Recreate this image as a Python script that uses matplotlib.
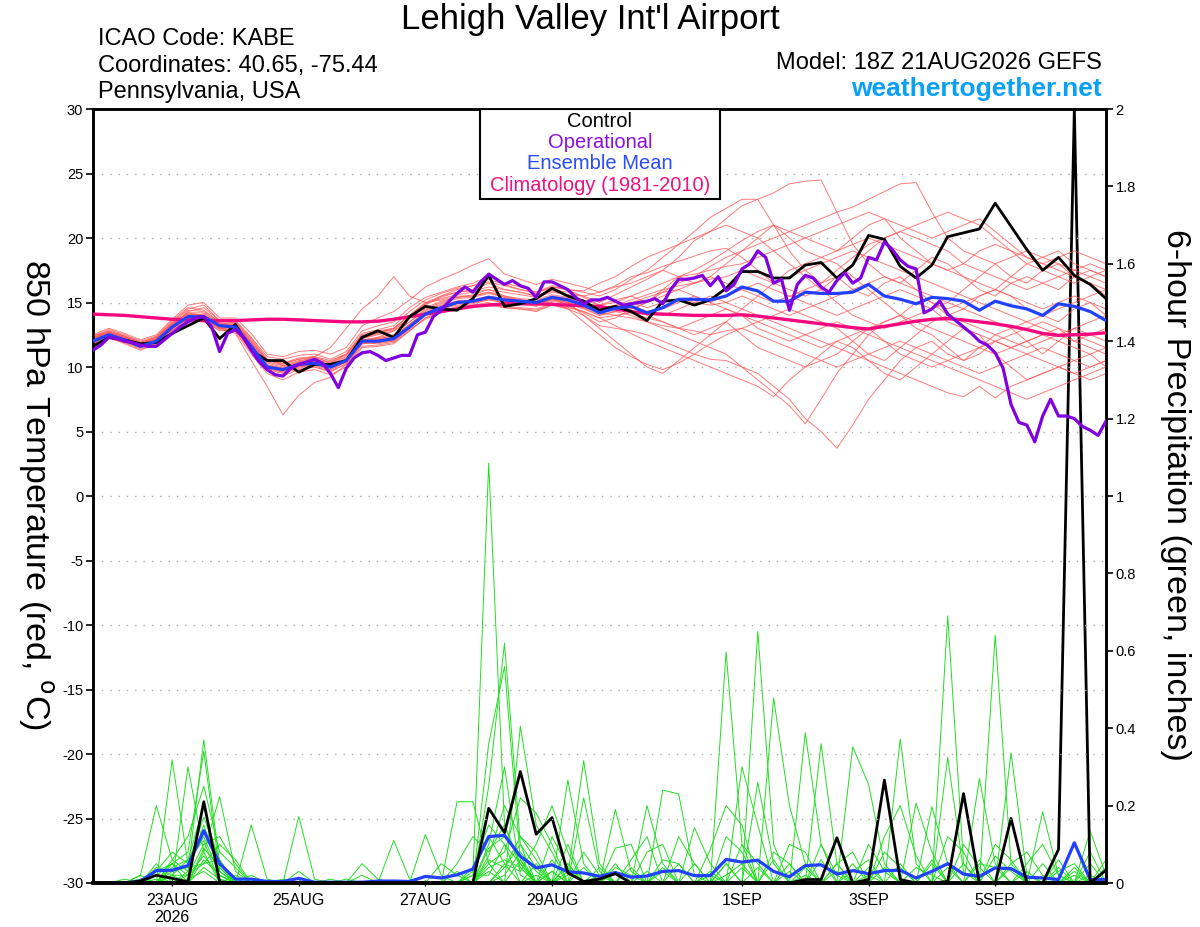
import numpy as np
import pandas as pd
import matplotlib
matplotlib.use("Agg")
import matplotlib.pyplot as plt
from matplotlib.patches import Rectangle

plt.rcParams['font.family'] = ['Liberation Sans', 'DejaVu Sans']

# ---------------- data ----------------
times = pd.date_range('2026-08-21 18:00', periods=65, freq='6h')
times_op = pd.date_range('2026-08-21 18:00', periods=129, freq='3h')

tick_dates = ['2026-08-23', '2026-08-25', '2026-08-27', '2026-08-29',
              '2026-09-01', '2026-09-03', '2026-09-05']
tick_labels = ['23AUG\n2026', '25AUG', '27AUG', '29AUG', '1SEP', '3SEP', '5SEP']

control_temp = [11.6, 12.3, 12.1, 11.8, 11.9, 12.6, 13.2, 13.8, 12.2, 13.3,
                11.3, 10.5, 10.5, 9.6, 10.2, 10.2, 10.5, 12.3, 12.8, 12.3,
                13.9, 14.7, 14.5, 14.4, 15.3, 17.1, 14.7, 14.9, 15.3, 16.1,
                15.5, 15.1, 14.4, 14.7, 14.3, 13.6, 15.1, 15.2, 14.8, 15.2,
                16.1, 17.4, 17.4, 16.9, 16.9, 17.9, 18.1, 16.9, 17.9, 20.2,
                19.9, 17.8, 16.9, 17.9, 20.1, 20.4, 20.7, 22.7, 20.9, 19.1,
                17.5, 18.5, 17.1, 16.4, 15.3]

mean_temp = [12.0, 12.5, 12.1, 11.6, 12.0, 13.1, 13.9, 13.9, 13.2, 13.1,
             11.6, 10.0, 9.8, 10.2, 10.3, 10.0, 10.5, 12.0, 12.0, 12.2,
             13.1, 14.1, 14.6, 15.0, 15.1, 15.4, 15.2, 15.1, 15.0, 15.4,
             15.2, 14.8, 14.2, 14.55, 14.7, 14.2, 14.6, 15.25, 15.25, 15.2,
             15.5, 16.2, 15.9, 15.1, 15.1, 15.8, 15.7, 15.7, 15.8, 16.4,
             15.5, 15.25, 14.9, 15.4, 15.3, 15.1, 14.4, 15.1, 14.75, 14.5,
             14.0, 14.9, 14.7, 14.3, 13.6]

clim_temp = [14.1, 14.05, 14.0, 13.9, 13.8, 13.7, 13.65, 13.6, 13.6, 13.6,
             13.65, 13.7, 13.7, 13.65, 13.6, 13.55, 13.5, 13.5, 13.55, 13.7,
             13.9, 14.1, 14.3, 14.5, 14.7, 14.8, 14.9, 14.9, 14.9, 14.85,
             14.8, 14.75, 14.7, 14.5, 14.3, 14.15, 14.1, 14.05, 14.0, 14.0,
             14.0, 14.05, 13.95, 13.8, 13.65, 13.5, 13.35, 13.2, 13.05, 12.95,
             13.15, 13.35, 13.55, 13.7, 13.75, 13.65, 13.5, 13.35, 13.15, 12.9,
             12.6, 12.45, 12.5, 12.55, 12.65]

oper_temp = [11.3, 11.7, 12.3, 12.2, 12.0, 11.9, 11.7, 11.6, 11.6, 12.1,
             12.6, 13.1, 13.5, 13.8, 13.9, 13.1, 11.2, 12.6, 12.9, 12.3,
             11.3, 10.4, 9.8, 9.4, 9.3, 9.9, 10.2, 10.4, 10.6, 10.3,
             9.5, 8.4, 9.9, 10.7, 11.1, 11.2, 10.9, 10.5, 10.7, 10.9,
             10.9, 12.5, 12.7, 13.9, 14.4, 15.1, 15.7, 16.2, 15.8, 16.6,
             17.2, 16.8, 16.4, 16.7, 16.3, 16.1, 15.4, 16.6, 16.6, 16.3,
             16.0, 15.4, 14.9, 15.2, 15.2,
             15.4, 15.1, 14.8, 14.9, 15.0, 15.1, 15.3, 14.9, 16.0, 16.8,
             16.8, 16.9, 17.1, 16.3, 17.0, 15.9, 16.4, 17.6, 18.0, 19.0,
             18.5, 16.5, 16.8, 14.4, 16.4, 17.1, 16.9, 16.2, 15.8, 16.7,
             17.3, 16.5, 16.9, 18.5, 18.3, 19.7, 19.1, 18.3, 17.8, 17.6,
             14.2, 14.5, 15.1, 14.1, 13.6, 13.1, 12.6, 12.0, 11.7, 11.1,
             9.9, 7.1, 5.7, 5.5, 4.2, 6.2, 7.5, 6.2, 6.2, 6.0,
             5.4, 5.1, 4.7, 5.8]

temp_members = [
    [12.3, 12.8, 12.4, 11.9, 12.3, 13.5, 14.5, 14.8, 13.6, 13.4,
     12.0, 10.5, 10.2, 10.6, 10.8, 10.3, 11.0, 12.5, 12.8, 13.0,
     14.0, 15.0, 15.5, 15.8, 16.0, 16.5, 16.0, 15.8, 15.5, 16.0,
     15.8, 15.5, 15.0, 15.6, 16.2, 16.8, 17.5, 18.5, 19.8, 20.5,
     21.5, 22.5, 23.0, 23.5, 24.2, 24.4, 24.5, 22.0, 19.5, 18.0,
     17.0, 16.5, 17.5, 18.5, 18.0, 17.0, 16.0, 15.5, 16.5, 17.0,
     16.5, 16.0, 17.0, 17.5, 17.0],
    [11.8, 12.2, 11.9, 11.4, 11.7, 12.8, 13.6, 13.5, 12.9, 12.7,
     11.0, 9.5, 9.0, 9.6, 9.8, 9.4, 10.0, 11.5, 11.6, 11.8,
     12.8, 13.8, 14.3, 14.7, 14.8, 15.0, 14.6, 14.5, 14.3, 14.8,
     14.5, 14.0, 13.2, 13.0, 12.8, 12.5, 12.0, 11.5, 11.0, 10.6,
     10.5, 10.0, 9.5, 8.5, 7.5, 6.0, 5.0, 3.7, 5.5, 7.5,
     9.0, 10.5, 11.5, 12.0, 11.0, 10.5, 11.5, 12.5, 13.0, 12.0,
     11.0, 12.0, 13.0, 12.5, 12.0],
    [12.1, 12.6, 12.3, 11.8, 12.2, 13.3, 14.2, 14.0, 13.0, 12.6,
     10.5, 8.5, 6.3, 7.8, 8.8, 9.2, 10.2, 11.8, 12.3, 12.8,
     13.5, 14.5, 15.0, 15.4, 15.6, 16.0, 15.5, 15.2, 14.8, 15.3,
     14.8, 14.2, 13.5, 13.8, 14.5, 15.0, 16.0, 17.0, 17.5, 18.2,
     19.0, 19.8, 20.5, 21.0, 20.0, 19.0, 18.5, 18.0, 17.0, 16.0,
     15.0, 14.0, 13.0, 12.5, 11.5, 10.5, 11.0, 12.0, 11.5, 11.0,
     10.5, 10.0, 9.5, 10.0, 10.5],
    [12.4, 12.9, 12.5, 12.0, 12.4, 13.6, 14.6, 14.4, 13.5, 13.6,
     12.3, 10.8, 10.6, 10.9, 11.0, 10.6, 11.2, 12.8, 13.2, 13.5,
     14.6, 15.4, 15.8, 16.2, 16.5, 17.0, 16.5, 16.2, 15.8, 16.3,
     16.0, 15.4, 14.8, 15.2, 15.5, 15.0, 15.8, 16.5, 17.0, 17.8,
     18.5, 19.0, 19.5, 20.0, 20.5, 21.0, 21.5, 22.0, 22.4, 23.0,
     23.6, 24.2, 24.3, 22.0, 20.0, 19.0, 18.5, 18.0, 17.0, 16.5,
     17.5, 18.0, 17.0, 16.5, 15.5],
    [11.9, 12.3, 11.8, 11.3, 11.8, 12.9, 13.5, 13.6, 12.8, 12.9,
     11.3, 9.8, 9.5, 9.9, 10.0, 9.6, 10.3, 11.8, 11.9, 12.0,
     12.9, 13.7, 14.2, 14.5, 14.6, 14.8, 14.6, 14.5, 14.4, 14.8,
     14.6, 14.3, 13.8, 13.2, 12.6, 12.0, 11.5, 11.0, 10.5, 10.0,
     9.5, 9.0, 8.5, 7.7, 9.0, 10.0, 11.0, 12.0, 11.5, 10.5,
     9.5, 9.0, 10.0, 11.0, 12.0, 13.0, 12.5, 11.0, 10.0, 9.0,
     9.5, 10.0, 10.5, 11.0, 10.0],
    [12.2, 12.7, 12.2, 11.7, 12.1, 13.2, 14.0, 14.1, 13.4, 13.3,
     11.8, 10.3, 10.0, 10.4, 10.5, 10.2, 10.8, 12.2, 12.5, 12.8,
     13.8, 14.8, 15.5, 16.0, 16.3, 16.8, 16.4, 16.0, 15.7, 16.2,
     16.0, 15.8, 15.5, 16.0, 16.8, 17.5, 18.5, 19.5, 20.5, 21.6,
     22.3, 23.0, 23.0, 21.0, 19.0, 17.5, 16.5, 17.0, 16.0, 15.5,
     16.5, 17.0, 16.0, 15.0, 14.0, 14.5, 15.5, 16.0, 15.5, 14.5,
     14.0, 13.5, 14.5, 15.0, 14.0],
    [11.7, 12.3, 12.0, 11.5, 11.9, 13.0, 13.8, 13.7, 13.0, 12.9,
     11.4, 9.9, 9.6, 10.0, 10.1, 9.8, 10.4, 11.9, 11.8, 12.0,
     13.0, 14.0, 14.5, 14.8, 14.9, 15.2, 15.0, 14.9, 14.7, 15.1,
     14.9, 14.5, 14.0, 14.3, 14.0, 13.5, 13.0, 12.5, 12.0, 11.5,
     11.0, 10.0, 9.0, 8.0, 7.0, 5.6, 7.5, 9.5, 11.0, 12.5,
     13.5, 14.0, 15.0, 14.5, 13.5, 13.0, 12.5, 12.0, 11.5, 12.0,
     12.5, 13.0, 12.0, 11.5, 11.0],
    [12.5, 13.0, 12.6, 12.1, 12.5, 13.7, 14.8, 15.0, 13.8, 13.8,
     12.6, 11.0, 10.8, 11.2, 11.3, 11.0, 11.5, 13.2, 13.8, 14.3,
     15.2, 16.2, 16.8, 17.3, 17.9, 18.4, 17.2, 16.8, 16.4, 16.8,
     16.5, 16.2, 15.8, 16.3, 17.0, 17.3, 17.8, 18.2, 18.6, 19.0,
     19.2, 18.5, 17.5, 16.5, 16.0, 15.5, 16.0, 17.0, 18.0, 19.0,
     20.0, 20.5, 20.0, 19.5, 19.0, 18.0, 17.5, 17.0, 16.5, 16.0,
     16.5, 17.0, 17.5, 18.0, 17.5],
    [12.0, 12.4, 12.0, 11.6, 11.9, 13.0, 13.7, 13.8, 13.1, 13.0,
     11.7, 10.1, 9.9, 10.3, 10.4, 10.1, 10.6, 12.0, 12.1, 12.3,
     13.2, 14.2, 14.6, 15.0, 15.0, 15.3, 15.1, 15.0, 14.9, 15.4,
     15.2, 14.8, 14.2, 14.0, 13.8, 13.5, 13.2, 13.0, 13.5, 14.0,
     14.5, 14.0, 13.5, 13.0, 12.5, 12.0, 11.5, 12.0, 12.5, 13.0,
     12.0, 11.0, 10.5, 10.0, 10.5, 11.0, 11.5, 12.0, 12.5, 13.0,
     13.5, 13.0, 12.5, 12.0, 11.5],
    [11.9, 12.4, 12.1, 11.6, 12.0, 13.1, 13.9, 13.8, 13.1, 13.0,
     11.5, 10.0, 9.7, 10.1, 10.2, 9.9, 10.5, 12.0, 12.0, 12.2,
     13.1, 14.1, 14.6, 15.0, 15.1, 15.4, 15.2, 15.1, 15.0, 15.3,
     15.0, 14.0, 13.0, 12.0, 11.0, 10.0, 9.5, 10.5, 11.5, 12.5,
     13.5, 14.5, 15.5, 16.5, 17.5, 18.0, 18.5, 19.0, 19.5, 20.0,
     19.5, 19.0, 18.5, 18.0, 17.5, 17.0, 16.5, 16.0, 17.0, 18.0,
     18.5, 19.0, 18.0, 17.5, 17.0],
    [12.1, 12.5, 12.2, 11.7, 12.0, 13.1, 13.9, 14.0, 13.2, 13.2,
     11.6, 10.0, 9.8, 10.2, 10.3, 10.0, 10.5, 12.0, 12.1, 12.3,
     13.2, 14.2, 14.7, 15.1, 15.2, 15.5, 15.3, 15.2, 15.1, 15.5,
     15.3, 15.0, 14.5, 14.8, 15.2, 15.6, 16.0, 16.3, 16.5, 16.8,
     17.0, 17.5, 17.0, 16.5, 17.0, 17.5, 18.0, 18.5, 19.0, 18.5,
     18.0, 17.5, 17.0, 16.5, 16.0, 15.5, 15.0, 14.5, 14.0, 13.5,
     13.0, 12.5, 12.0, 12.5, 13.0],
    [12.2, 12.6, 12.2, 11.7, 12.1, 13.2, 14.0, 13.9, 13.3, 13.1,
     11.6, 10.0, 9.7, 10.1, 10.3, 10.0, 10.6, 12.1, 12.2, 12.4,
     13.3, 14.3, 14.8, 15.1, 15.2, 15.4, 15.2, 15.0, 14.9, 15.2,
     15.0, 14.6, 14.0, 14.3, 14.6, 14.2, 14.0, 14.5, 15.0, 15.5,
     15.0, 14.5, 14.0, 13.5, 13.0, 12.5, 12.0, 11.5, 11.0, 10.5,
     10.0, 9.5, 9.0, 8.5, 8.0, 7.7, 8.5, 7.6, 8.5, 9.0,
     9.5, 10.0, 9.5, 9.0, 9.5],
    [12.3, 12.7, 12.3, 11.8, 12.2, 13.3, 14.2, 14.2, 13.4, 13.4,
     11.9, 10.4, 10.1, 10.5, 10.6, 10.3, 10.9, 12.4, 12.6, 13.0,
     14.0, 14.9, 15.4, 15.8, 15.9, 16.2, 16.0, 15.8, 15.5, 15.9,
     15.6, 15.2, 14.8, 15.0, 15.5, 16.0, 16.5, 17.0, 17.2, 17.5,
     17.8, 18.0, 18.5, 19.0, 19.5, 20.0, 20.5, 21.0, 21.5, 22.0,
     21.5, 21.0, 20.5, 20.0, 20.5, 21.0, 21.5, 20.5, 19.5, 18.5,
     18.0, 17.5, 17.0, 16.5, 16.0],
    [12.0, 12.5, 12.1, 11.6, 12.0, 13.0, 13.8, 13.9, 13.2, 13.1,
     11.6, 10.1, 9.8, 10.4, 10.8, 11.5, 13.0, 14.5, 15.5, 17.0,
     15.5, 15.0, 15.2, 15.5, 15.5, 15.8, 15.5, 15.3, 15.2, 15.6,
     15.4, 15.0, 14.5, 14.7, 15.0, 14.6, 15.0, 15.3, 15.0, 14.8,
     15.0, 15.5, 15.0, 14.5, 14.0, 14.5, 15.0, 15.5, 16.0, 16.5,
     17.0, 16.5, 16.0, 15.5, 15.0, 14.5, 14.0, 13.5, 13.0, 13.5,
     14.0, 14.5, 15.0, 15.5, 16.0],
    [11.8, 12.3, 11.9, 11.5, 11.8, 12.9, 13.6, 13.6, 13.0, 12.8,
     11.2, 9.7, 9.3, 9.8, 10.0, 9.7, 10.2, 11.6, 11.7, 11.9,
     12.8, 13.8, 14.3, 14.6, 14.7, 14.9, 14.7, 14.6, 14.5, 14.9,
     14.7, 14.3, 13.8, 14.0, 14.2, 13.8, 13.5, 13.0, 12.8, 12.5,
     12.8, 13.0, 12.5, 12.0, 11.5, 11.0, 10.5, 10.0, 10.5, 11.0,
     11.5, 12.0, 11.5, 11.0, 10.5, 10.0, 9.5, 10.0, 10.5, 11.0,
     11.5, 11.0, 10.5, 10.0, 10.5],
    [12.4, 12.8, 12.4, 11.9, 12.3, 13.4, 14.4, 14.3, 13.5, 13.5,
     12.1, 10.6, 10.3, 10.7, 10.8, 10.5, 11.0, 12.6, 12.9, 13.2,
     14.3, 15.2, 15.7, 16.1, 16.3, 16.6, 16.3, 16.0, 15.8, 16.2,
     16.0, 15.9, 16.5, 17.0, 17.8, 18.5, 19.0, 19.5, 20.0, 20.5,
     21.0, 20.5, 20.0, 19.0, 18.0, 17.0, 16.0, 15.0, 14.0, 13.5,
     13.0, 13.5, 14.0, 14.5, 15.0, 16.0, 17.0, 18.0, 18.5, 19.0,
     18.5, 18.0, 17.5, 17.0, 16.5],
    [12.0, 12.6, 12.3, 11.8, 12.1, 13.2, 14.3, 14.6, 13.6, 13.5,
     12.2, 10.6, 10.1, 10.3, 10.4, 9.9, 10.6, 12.2, 12.6, 12.9,
     13.8, 14.6, 15.1, 15.4, 15.5, 15.8, 15.4, 15.1, 14.8, 15.0,
     14.5, 13.5, 12.5, 11.5, 10.8, 10.2, 9.8, 10.3, 11.0, 11.8,
     12.5, 13.0, 13.5, 14.0, 14.5, 14.0, 13.5, 13.0, 12.0, 11.0,
     10.5, 11.5, 12.5, 13.5, 14.0, 13.5, 13.0, 12.5, 12.0, 11.5,
     12.0, 12.5, 13.0, 13.5, 14.0],
    [12.2, 12.7, 12.4, 11.9, 12.3, 13.4, 14.1, 14.0, 13.3, 13.3,
     11.9, 10.5, 10.3, 10.6, 10.7, 10.4, 11.0, 12.4, 12.7, 13.0,
     14.0, 14.9, 15.3, 15.6, 15.8, 16.0, 15.8, 15.6, 15.4, 15.8,
     15.6, 15.5, 15.8, 16.2, 16.5, 17.0, 17.5, 17.0, 16.5, 17.0,
     18.0, 19.0, 20.0, 21.0, 20.5, 20.0, 19.5, 19.0, 20.0, 21.0,
     21.5, 20.0, 19.0, 18.0, 17.5, 18.0, 19.0, 19.5, 19.0, 18.5,
     18.0, 18.5, 19.0, 18.5, 18.0],
    [11.9, 12.4, 12.0, 11.5, 11.9, 12.9, 13.7, 13.7, 13.0, 12.9,
     11.4, 9.9, 9.6, 10.0, 10.2, 9.8, 10.4, 11.8, 11.9, 12.1,
     13.0, 14.0, 14.5, 14.9, 15.0, 15.2, 15.0, 14.9, 14.8, 15.2,
     15.0, 14.6, 14.3, 14.5, 14.8, 14.0, 13.5, 13.0, 12.5, 13.0,
     13.5, 12.5, 11.5, 11.0, 10.5, 10.0, 10.5, 11.0, 12.0, 13.0,
     13.5, 14.0, 13.5, 13.0, 12.5, 12.0, 11.5, 11.0, 11.5, 12.0,
     12.5, 12.0, 11.5, 11.0, 11.5],
    [12.3, 12.7, 12.3, 11.8, 12.2, 13.3, 14.1, 14.0, 13.3, 13.2,
     11.7, 10.2, 9.9, 10.3, 10.4, 10.1, 10.7, 12.1, 12.3, 12.5,
     13.5, 14.4, 14.9, 15.3, 15.4, 15.7, 15.4, 15.2, 15.0, 15.4,
     15.2, 14.9, 14.5, 14.3, 14.5, 15.0, 15.5, 16.0, 16.5, 17.0,
     16.5, 16.0, 15.5, 15.0, 15.5, 16.0, 16.5, 17.5, 18.5, 19.5,
     20.0, 20.5, 21.0, 21.5, 22.0, 21.5, 21.0, 20.0, 19.0, 18.0,
     17.5, 17.0, 16.5, 17.0, 17.5],
    [12.1, 12.5, 12.1, 11.6, 12.0, 13.1, 13.8, 13.9, 13.1, 13.1,
     11.6, 10.0, 9.8, 10.2, 10.3, 10.0, 10.5, 12.0, 12.1, 12.3,
     13.2, 14.2, 14.6, 15.0, 15.1, 15.3, 15.1, 15.0, 14.9, 15.3,
     15.1, 14.8, 14.4, 14.6, 15.0, 15.4, 15.8, 16.0, 15.5, 15.0,
     14.5, 14.0, 13.0, 12.5, 12.0, 12.5, 13.0, 13.5, 13.0, 12.5,
     12.0, 11.5, 11.0, 10.5, 10.0, 9.5, 9.0, 8.5, 8.0, 7.5,
     8.0, 8.5, 9.0, 9.5, 10.0],
    [12.2, 12.6, 12.2, 11.7, 12.0, 13.1, 13.9, 14.0, 13.3, 13.2,
     11.7, 10.1, 9.9, 10.3, 10.4, 10.1, 10.6, 12.1, 12.2, 12.4,
     13.3, 14.2, 14.7, 15.1, 15.2, 15.4, 15.2, 15.1, 15.0, 15.4,
     15.2, 14.8, 14.2, 14.5, 14.8, 14.3, 14.5, 15.0, 15.5, 15.0,
     15.5, 16.0, 16.5, 16.0, 15.5, 15.0, 14.5, 14.0, 14.5, 15.0,
     15.5, 16.0, 15.5, 15.0, 14.5, 15.0, 15.5, 16.0, 15.5, 15.0,
     14.5, 15.0, 15.5, 15.0, 14.5],
]

control_precip = [0, 0, 0, 0.005, 0.02, 0.012, 0.003, 0.21, 0.003, 0,
                  0, 0, 0, 0, 0, 0, 0, 0, 0, 0,
                  0, 0, 0, 0, 0, 0.193, 0.13, 0.288, 0.126, 0.169,
                  0.026, 0.004, 0.01, 0.024, 0, 0, 0, 0, 0, 0,
                  0, 0, 0, 0, 0, 0.009, 0.009, 0.117, 0, 0.009,
                  0.266, 0.009, 0, 0, 0.004, 0.231, 0, 0, 0.167, 0,
                  0, 0.087, 2.0, 0, 0.033]

mean_precip = [0, 0, 0, 0.005, 0.032, 0.033, 0.045, 0.135, 0.05, 0.01,
               0.01, 0.004, 0.004, 0.012, 0.002, 0.002, 0.002, 0.002, 0.005, 0.005,
               0.004, 0.017, 0.013, 0.021, 0.036, 0.12, 0.123, 0.069, 0.039, 0.047,
               0.029, 0.026, 0.017, 0.027, 0.015, 0.018, 0.03, 0.032, 0.019, 0.019,
               0.061, 0.054, 0.059, 0.03, 0.016, 0.045, 0.047, 0.023, 0.032, 0.024,
               0.032, 0.033, 0.013, 0.03, 0.05, 0.023, 0.017, 0.039, 0.037, 0.015,
               0.013, 0.009, 0.104, 0.009, 0.009]

# ensemble member 6-h precip: {time index: inches}, zero elsewhere
precip_members = [
    {3: 0.02, 4: 0.2, 5: 0.06, 6: 0.03, 7: 0.37, 8: 0.05, 24: 0.02, 25: 1.085, 26: 0.15, 27: 0.05,
     33: 0.05, 36: 0.24, 37: 0.23, 38: 0.02, 40: 0.02, 41: 0.05, 54: 0.69, 55: 0.05, 62: 0.02},
    {2: 0.01, 5: 0.318, 6: 0.05, 7: 0.12, 8: 0.02, 13: 0.172, 14: 0.01, 25: 0.25, 26: 0.62, 27: 0.1,
     28: 0.04, 30: 0.02, 31: 0.316, 32: 0.05, 40: 0.597, 41: 0.1, 45: 0.02, 47: 0.05, 57: 0.64, 58: 0.05},
    {4: 0.05, 6: 0.3, 7: 0.08, 8: 0.223, 9: 0.03, 21: 0.125, 22: 0.02, 25: 0.36, 26: 0.56, 27: 0.06,
     29: 0.03, 35: 0.2, 36: 0.05, 42: 0.65, 43: 0.1, 49: 0.02, 51: 0.372, 52: 0.05, 60: 0.184, 61: 0.02},
    {5: 0.05, 6: 0.08, 7: 0.34, 8: 0.03, 10: 0.15, 11: 0.01, 23: 0.21, 24: 0.21, 25: 0.05, 27: 0.405,
     28: 0.15, 29: 0.08, 33: 0.19, 34: 0.03, 43: 0.478, 44: 0.2, 45: 0.05, 54: 0.325, 55: 0.03, 63: 0.134, 64: 0.02},
    {4: 0.03, 5: 0.08, 6: 0.05, 7: 0.17, 8: 0.06, 19: 0.11, 20: 0.01, 25: 0.1, 26: 0.3, 27: 0.02,
     30: 0.266, 31: 0.05, 41: 0.3, 42: 0.15, 45: 0.388, 46: 0.1, 56: 0.27, 57: 0.05},
    {3: 0.01, 4: 0.02, 5: 0.05, 6: 0.02, 7: 0.1, 8: 0.12, 9: 0.05, 17: 0.05, 18: 0.01, 25: 0.07,
     26: 0.2, 27: 0.12, 28: 0.06, 31: 0.22, 32: 0.03, 37: 0.12, 38: 0.05, 46: 0.36, 47: 0.05, 58: 0.336, 59: 0.02},
    {5: 0.06, 6: 0.12, 7: 0.25, 8: 0.08, 9: 0.04, 25: 0.05, 26: 0.08, 27: 0.22, 28: 0.18, 29: 0.1,
     35: 0.08, 36: 0.1, 42: 0.26, 43: 0.05, 48: 0.352, 49: 0.255, 50: 0.05, 53: 0.197, 54: 0.05},
    {4: 0.04, 5: 0.02, 6: 0.06, 7: 0.2, 8: 0.04, 13: 0.03, 23: 0.05, 24: 0.12, 25: 0.08, 26: 0.15,
     27: 0.04, 30: 0.05, 33: 0.09, 34: 0.1, 39: 0.087, 40: 0.2, 41: 0.15, 44: 0.05, 52: 0.206, 53: 0.08,
     61: 0.03, 62: 0.05},
    {5: 0.03, 6: 0.04, 7: 0.05, 8: 0.1, 9: 0.06, 12: 0.01, 26: 0.05, 27: 0.03, 28: 0.1, 29: 0.2,
     30: 0.08, 34: 0.06, 35: 0.12, 38: 0.143, 39: 0.05, 47: 0.05, 48: 0.08, 50: 0.12, 51: 0.2, 52: 0.07,
     57: 0.07, 58: 0.03},
    {4: 0.02, 6: 0.03, 7: 0.15, 8: 0.03, 15: 0.01, 24: 0.03, 25: 0.12, 26: 0.05, 28: 0.02, 32: 0.04,
     36: 0.06, 37: 0.05, 41: 0.1, 42: 0.05, 49: 0.1, 50: 0.03, 54: 0.12, 55: 0.08, 59: 0.05, 60: 0.1,
     61: 0.02, 63: 0.05},
    {5: 0.02, 6: 0.02, 7: 0.07, 8: 0.02, 22: 0.05, 23: 0.02, 25: 0.04, 26: 0.06, 27: 0.04, 29: 0.03,
     31: 0.08, 32: 0.02, 40: 0.12, 41: 0.08, 46: 0.1, 47: 0.02, 53: 0.05, 56: 0.05, 57: 0.04, 64: 0.06},
    {3: 0.01, 5: 0.02, 7: 0.04, 8: 0.01, 25: 0.03, 27: 0.06, 30: 0.05, 33: 0.04, 34: 0.02, 38: 0.05,
     43: 0.08, 44: 0.05, 51: 0.05, 55: 0.1, 56: 0.04, 62: 0.03},
    {6: 0.01, 7: 0.03, 10: 0.02, 24: 0.02, 25: 0.02, 26: 0.1, 27: 0.05, 29: 0.12, 30: 0.04, 36: 0.04,
     44: 0.1, 45: 0.08, 48: 0.03, 49: 0.06, 58: 0.05, 59: 0.08, 60: 0.02},
    {4: 0.01, 7: 0.06, 8: 0.02, 17: 0.02, 26: 0.02, 27: 0.08, 28: 0.03, 32: 0.02, 35: 0.03, 39: 0.02,
     42: 0.04, 47: 0.03, 52: 0.04, 53: 0.02, 61: 0.04, 63: 0.02},
    {4: 0.03, 5: 0.05, 7: 0.09, 8: 0.04, 16: 0.01, 25: 0.06, 26: 0.04, 27: 0.12, 28: 0.08, 31: 0.04,
     36: 0.03, 40: 0.05, 45: 0.04, 50: 0.08, 51: 0.04, 56: 0.06, 60: 0.05, 64: 0.04},
    {5: 0.04, 6: 0.06, 7: 0.11, 9: 0.02, 24: 0.04, 25: 0.15, 26: 0.1, 28: 0.05, 30: 0.03, 37: 0.05,
     39: 0.03, 43: 0.06, 48: 0.05, 54: 0.04, 57: 0.1, 58: 0.06, 62: 0.04},
    {6: 0.02, 7: 0.05, 8: 0.06, 23: 0.03, 26: 0.04, 27: 0.1, 29: 0.06, 33: 0.03, 41: 0.04, 46: 0.06,
     50: 0.04, 55: 0.05, 59: 0.03, 63: 0.08},
    {3: 0.02, 7: 0.08, 25: 0.09, 26: 0.12, 27: 0.07, 30: 0.1, 34: 0.04, 40: 0.05, 44: 0.03, 49: 0.04,
     53: 0.06, 58: 0.04, 61: 0.06},
]

# ---------------- colours ----------------
C_CONTROL = '#000000'
C_OPER = '#8000e0'
C_MEAN = '#2240ff'
C_CLIM = '#f5087f'
C_MEMBER_T = '#ff5a5a'
C_MEMBER_P = '#22dd22'

# ---------------- figure ----------------
fig = plt.figure(figsize=(12, 9.27), dpi=100)
ax = fig.add_axes([93 / 1200, 1 - 883 / 927, (1106 - 93) / 1200, (883 - 109) / 927])
ax2 = ax.twinx()
ax2.set_zorder(ax.get_zorder() - 1)
ax.patch.set_visible(False)
ax2.patch.set_facecolor('white')

# precipitation (right axis)
for m in precip_members:
    vals = np.zeros(len(times))
    for k, v in m.items():
        vals[k] = v
    ax2.plot(times, vals, color=C_MEMBER_P, lw=0.7, zorder=2)
ax2.plot(times, mean_precip, color=C_MEAN, lw=2.3, zorder=4)
ax2.plot(times, control_precip, color=C_CONTROL, lw=2.0, zorder=5)
ax2.set_ylim(0, 2)

# temperature (left axis)
for m in temp_members:
    ax.plot(times, m, color=C_MEMBER_T, lw=0.7, alpha=0.8, zorder=2)
ax.plot(times, clim_temp, color=C_CLIM, lw=2.4, zorder=3)
ax.plot(times, control_temp, color=C_CONTROL, lw=2.0, zorder=4)
ax.plot(times, mean_temp, color=C_MEAN, lw=2.3, zorder=5)
ax.plot(times_op, oper_temp, color=C_OPER, lw=2.3, zorder=6)

ax.set_ylim(-30, 30)
ax.set_xlim(times[0], times[-1])

# grid
for yv in range(-25, 30, 5):
    ax.axhline(yv, color='#aaaaaa', lw=1.0, ls=(0, (1, 5)), zorder=1)

# ticks
ax.set_yticks(range(-30, 31, 5))
ax.set_yticklabels([str(v) for v in range(-30, 31, 5)])
ax.tick_params(axis='y', direction='out', length=5, width=1.2, labelsize=10.5, pad=2)
ax2.set_yticks([0, 0.2, 0.4, 0.6, 0.8, 1.0, 1.2, 1.4, 1.6, 1.8, 2.0])
ax2.set_yticklabels(['0', '0.2', '0.4', '0.6', '0.8', '1', '1.2', '1.4', '1.6', '1.8', '2'])
ax2.tick_params(axis='y', direction='out', length=5, width=1.2, labelsize=10.5, pad=2)

ax.set_xticks(pd.to_datetime(tick_dates))
ax.set_xticklabels(tick_labels, fontsize=11.5, linespacing=1.1)
ax.tick_params(axis='x', direction='inout', length=5, width=1.0, pad=5)

for sp in ['left', 'right', 'top']:
    ax.spines[sp].set_linewidth(1.8)
    ax2.spines[sp].set_linewidth(1.8)
ax.spines['bottom'].set_linewidth(2.6)
ax2.spines['bottom'].set_linewidth(2.6)

# axis labels
fig.text(35 / 1200, 1 - 495 / 927, '850 hPa Temperature (red, $^{\\rm o}$C)', rotation=270,
         ha='center', va='center', fontsize=24.5)
fig.text(1175 / 1200, 1 - 495 / 927, '6-hour Precipitation (green, inches)', rotation=270,
         ha='center', va='center', fontsize=24.5)

# titles
fig.text(590 / 1200, 1 - 19 / 927, "Lehigh Valley Int'l Airport", ha='center', va='center', fontsize=25)
fig.text(98 / 1200, 1 - 39 / 927, 'ICAO Code: KABE', ha='left', va='center', fontsize=17)
fig.text(98 / 1200, 1 - 66 / 927, 'Coordinates: 40.65, -75.44', ha='left', va='center', fontsize=17)
fig.text(98 / 1200, 1 - 92 / 927, 'Pennsylvania, USA', ha='left', va='center', fontsize=17)
fig.text(1102 / 1200, 1 - 63 / 927, 'Model: 18Z 21AUG2026 GEFS', ha='right', va='center', fontsize=17)
fig.text(1102 / 1200, 1 - 89 / 927, 'weathertogether.net', ha='right', va='center', fontsize=19,
         fontweight='bold', color='#0aa0f5')

# legend box
x0 = (480 - 93) / 1013
x1 = (720 - 93) / 1013
y0 = (883 - 199) / 774
ax.add_patch(Rectangle((x0, y0), x1 - x0, 1 - y0, transform=ax.transAxes, facecolor='white',
                       edgecolor='black', lw=1.5, zorder=10))
xc = (600 - 93) / 1013
for txt, col, ypx in [('Control', C_CONTROL, 121), ('Operational', '#8a10e0', 142),
                      ('Ensemble Mean', '#2a4cff', 163), ('Climatology (1981-2010)', '#f0107f', 185)]:
    ax.text(xc, (883 - ypx) / 774, txt, color=col, ha='center', va='center', fontsize=14.5,
            transform=ax.transAxes, zorder=11)

fig.savefig('out.png', dpi=100)
